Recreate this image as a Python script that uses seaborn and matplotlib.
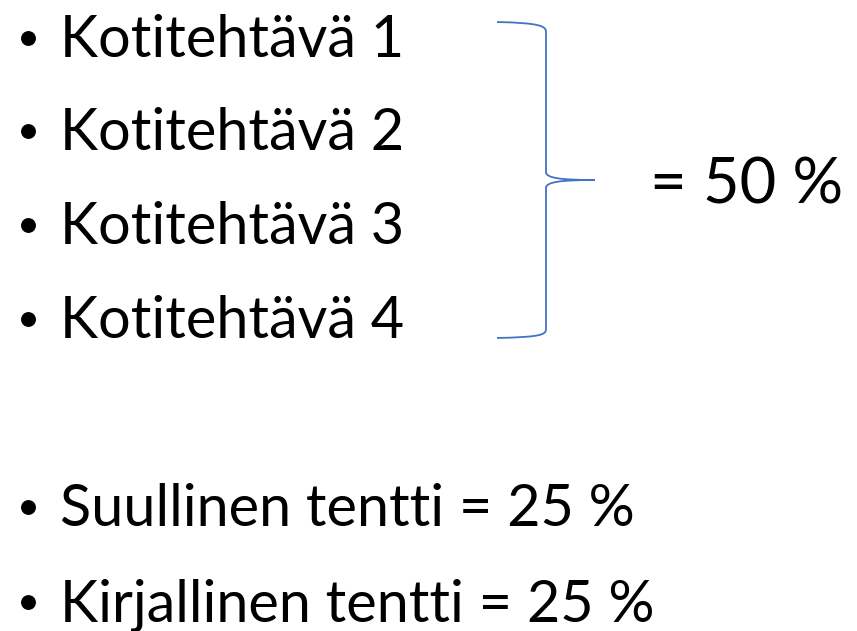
import matplotlib.pyplot as plt
import seaborn as sns
from matplotlib.path import Path
from matplotlib.patches import PathPatch

# slide content
homework = ["Kotitehtävä 1", "Kotitehtävä 2", "Kotitehtävä 3", "Kotitehtävä 4"]
homework_share = 50
exams = ["Suullinen tentti", "Kirjallinen tentti"]
exam_shares = [25, 25]

sns.set_theme(style="white")
plt.rcParams['font.family'] = ['Lato', 'DejaVu Sans']

fig = plt.figure(figsize=(8.57, 6.31), dpi=100)
ax = fig.add_axes([0, 0, 1, 1])
ax.set_xlim(0, 857)
ax.set_ylim(631, 0)
ax.axis('off')

text_x = 60
bullet_x = 28
baselines = [57, 150, 244, 338, 526, 621]

lines = homework + [f"{name} = {share} %" for name, share in zip(exams, exam_shares)]
for txt, base in zip(lines, baselines):
    ax.text(text_x, base, txt, fontsize=41.5, color='black', ha='left', va='baseline')
    ax.scatter([bullet_x], [base - 19], s=115, color='black', linewidths=0)

# curly brace around the homework items
brace = Path(
    [(497, 22), (540, 23), (546, 26), (546, 32),
     (546, 172),
     (546, 178), (560, 180), (595, 180),
     (560, 180), (546, 182), (546, 188),
     (546, 329),
     (546, 335), (540, 337), (497, 338)],
    [Path.MOVETO, Path.CURVE4, Path.CURVE4, Path.CURVE4,
     Path.LINETO,
     Path.CURVE4, Path.CURVE4, Path.CURVE4,
     Path.CURVE4, Path.CURVE4, Path.CURVE4,
     Path.LINETO,
     Path.CURVE4, Path.CURVE4, Path.CURVE4])
ax.add_patch(PathPatch(brace, facecolor='none', edgecolor='#4472C4', lw=1.3))

ax.text(650, 204, f"= {homework_share} %", fontsize=45.5, color='black',
        ha='left', va='baseline')

fig.savefig('out.png', dpi=100)
